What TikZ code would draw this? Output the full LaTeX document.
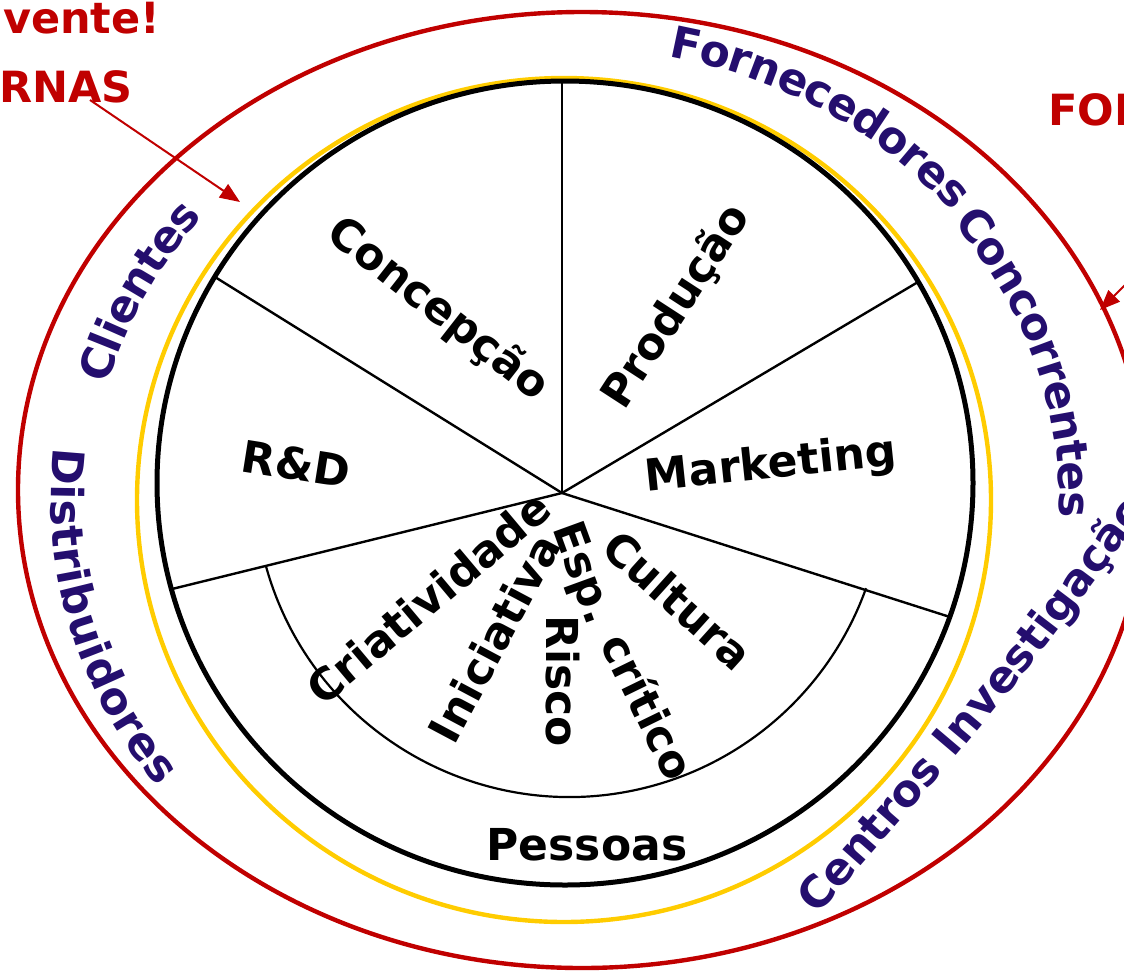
\documentclass[tikz,border=0pt]{standalone}
\usepackage{fontspec}
\setmainfont{DejaVu Sans}
\usetikzlibrary{decorations.text,arrows.meta}
\definecolor{redc}{RGB}{192,0,0}
\definecolor{yellowc}{RGB}{255,204,0}
\definecolor{purp}{RGB}{36,14,110}
\tikzset{
 lab/.style={font=\fontsize{22}{26}\selectfont\bfseries, inner sep=0pt},
 redlab/.style={font=\fontsize{21.5}{25}\selectfont\bfseries, text=redc, inner sep=0pt},
 spoke/.style={line width=1.2pt},
 ring/.style={line width=2.2pt},
 redarrow/.style={draw=redc, line width=1pt, -{Triangle[length=10pt,width=8pt]}},
 outer/.style={decorate, decoration={text along path, text align=center, raise=-8pt, text color=purp, text format delimiters={|}{|}}},
}
\begin{document}
\begin{tikzpicture}[x=0.5pt,y=0.5pt]
\useasboundingbox (0,0) rectangle (1124,-970);
\clip (0,0) rectangle (1124,-970);
% rings
\draw[ring, redc] (582,-490) ellipse [x radius=564, y radius=478];
\draw[ring, yellowc] (564,-500) ellipse [x radius=427, y radius=422];
\draw[ring, black, line width=2.5pt] (565,-483) ellipse [x radius=408, y radius=402];
% spokes
\coordinate (O) at (562,-493);
\coordinate (s1) at (562,-81);
\coordinate (s2) at (918,-282);
\coordinate (s3) at (950,-617);
\coordinate (s4) at (172,-589);
\coordinate (s5) at (215,-277);
\draw[spoke] (O) -- (s1);
\draw[spoke] (O) -- (s2);
\draw[spoke] (O) -- (s3);
\draw[spoke] (O) -- (s4);
\draw[spoke] (O) -- (s5);
% inner arc
\draw[line width=1.1pt] (569.5,-482) ++(195.5:315) arc[start angle=195.5, end angle=340.3, radius=315];
% red arrows
\coordinate (a1s) at (90,-100);
\coordinate (a1e) at (240,-202);
\coordinate (a2s) at (1132,-278);
\coordinate (a2e) at (1100,-310);
\draw[redarrow] (a1s) -- (a1e);
\draw[redarrow] (a2s) -- (a2e);
% red texts
\node[redlab, anchor=base west] (t1) at (-12,-33) {lvente!};
\node[redlab, anchor=base west] (t2) at (-1,-102) {RNAS};
\node[redlab, anchor=base west] (t3) at (1048,-125) {FOR};
% inner labels
\node[lab, rotate=-38] (conc) at (438,-310) {Concepção};
\node[lab, rotate=57] (prod) at (677,-307) {Produção};
\node[lab, rotate=6] (mkt) at (771,-466) {Marketing};
\node[lab, rotate=-9] (rd) at (296,-464) {R\&D};
\node[lab] (pess) at (587,-845) {Pessoas};
\node[lab, rotate=40] (cri) at (428,-598) {Criatividade};
\node[lab, rotate=62] (ini) at (494,-638) {Iniciativa};
\node[lab, rotate=-70] (esp) at (581,-574) {Esp.};
\node[lab, rotate=-64] (crit) at (649,-706) {crítico};
\node[lab, rotate=-90] (ris) at (563,-681) {Risco};
\node[lab, rotate=-42] (cul) at (678,-600) {Cultura};
% outer curved texts
\path[outer, decoration={text={|\fontsize{22}{26}\selectfont\bfseries|Fornecedores}}]
  (575,-500) ++(91:505 and 468) arc[start angle=91, end angle=27, x radius=505, y radius=468];
\path[outer, decoration={text={|\fontsize{22}{26}\selectfont\bfseries|Concorrentes}}]
  (575,-500) ++(50:500 and 460) arc[start angle=50, end angle=-14, x radius=500, y radius=460];
\coordinate (cs) at (805,-905);
\coordinate (cc) at (994,-690);
\coordinate (ce) at (1165,-460);
\path[outer, decoration={text align=left, text={|\fontsize{22}{26}\selectfont\bfseries|Centros Investigação}}]
  (cs) .. controls (cc) .. (ce);
\path[outer, decoration={text={|\fontsize{22}{26}\selectfont\bfseries|Clientes}}]
  (575,-500) ++(185:500 and 458) arc[start angle=185, end angle=121, x radius=500, y radius=458];
\path[outer, decoration={text={|\fontsize{22}{26}\selectfont\bfseries|Distribuidores}}]
  (575,-500) ++(158:508 and 458) arc[start angle=158, end angle=232, x radius=508, y radius=458];
\end{tikzpicture}
\end{document}
